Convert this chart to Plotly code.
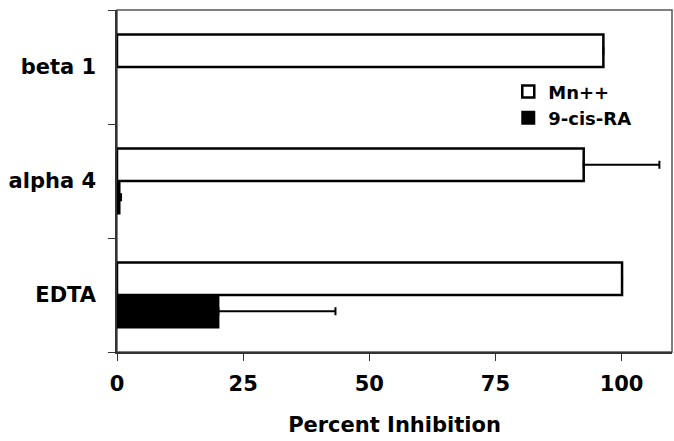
import plotly.graph_objects as go

# Data
categories = ['EDTA', 'alpha 4', 'beta 1']
mn_values = [100.1, 92.5, 96.4]
mn_errors = [0, 15.0, 0]
ra_values = [20.1, 0.5, None]
ra_errors = [23.2, 0.3, 0]

font_family = 'DejaVu Sans'

fig = go.Figure()

# 9-cis-RA first so it sits below Mn++ inside each group
fig.add_trace(go.Bar(y=categories, x=ra_values, orientation='h', name='9-cis-RA',
                     marker=dict(color='black', line=dict(color='black', width=2)),
                     error_x=dict(type='data', array=ra_errors, arrayminus=[0, 0, 0],
                                  symmetric=False, color='black', thickness=2, width=4),
                     legendrank=2))
fig.add_trace(go.Bar(y=categories, x=mn_values, orientation='h', name='Mn++',
                     marker=dict(color='white', line=dict(color='black', width=2.5)),
                     error_x=dict(type='data', array=mn_errors, arrayminus=[0, 0, 0],
                                  symmetric=False, color='black', thickness=2, width=4),
                     legendrank=1))

# grey frame on top/right
fig.add_shape(type='rect', xref='paper', yref='paper', x0=0, y0=0, x1=1, y1=1,
              line=dict(color='#555555', width=1.5), layer='below')

fig.update_layout(
    width=674, height=441,
    margin=dict(l=117, r=2, t=10, b=89),
    plot_bgcolor='white', paper_bgcolor='white',
    barmode='group', bargap=0.43, bargroupgap=0,
    font=dict(family=font_family, color='black'),
    showlegend=True,
    legend=dict(x=0.705, y=0.815, xanchor='left', yanchor='top',
                font=dict(size=18, family=font_family, weight='bold'),
                bgcolor='rgba(0,0,0,0)', tracegroupgap=0, itemwidth=30),
    xaxis=dict(range=[0, 110], tickvals=[0, 25, 50, 75, 100],
               showline=True, linecolor='#333333', linewidth=1.5,
               ticks='outside', ticklen=7, tickcolor='#333333',
               tickfont=dict(size=21, family=font_family, weight='bold'),
               ticklabelstandoff=5,
               showgrid=False, zeroline=False,
               title=dict(text='<b>Percent Inhibition</b>', font=dict(size=21), standoff=22)),
    yaxis=dict(showline=True, linecolor='#333333', linewidth=1.5,
               ticks='outside', ticklen=7, tickcolor='#333333', tickson='boundaries',
               tickfont=dict(size=21, family=font_family, weight='bold'),
               showgrid=False, zeroline=False, ticklabelstandoff=15),
)

# drop the default page margin so the figure fills the window, no modebar
fig.write_html("out.html", config={'displayModeBar': False},
               post_script="document.body.style.margin='0';")
